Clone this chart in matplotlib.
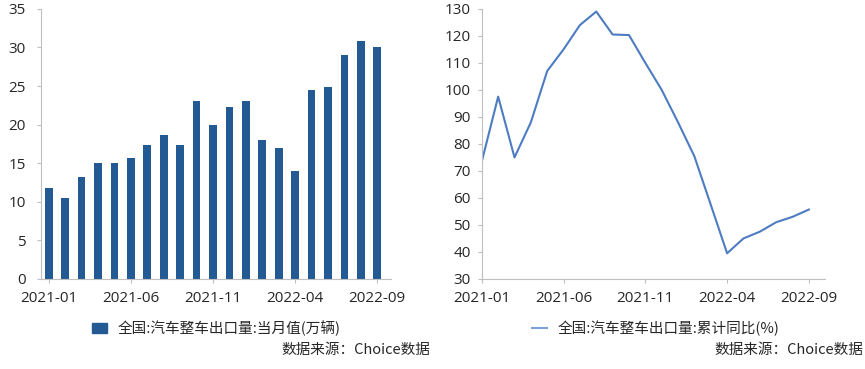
import numpy as np
import matplotlib
matplotlib.use('Agg')
import matplotlib.pyplot as plt
from matplotlib.lines import Line2D
from matplotlib.patches import Patch

plt.rcParams['font.family'] = ['Noto Sans CJK SC', 'DejaVu Sans']

months = ['2021-01', '2021-02', '2021-03', '2021-04', '2021-05', '2021-06', '2021-07',
          '2021-08', '2021-09', '2021-10', '2021-11', '2021-12', '2022-01', '2022-02',
          '2022-03', '2022-04', '2022-05', '2022-06', '2022-07', '2022-08', '2022-09']
# 当月值(万辆)
monthly = [11.8, 10.5, 13.2, 15.0, 15.0, 15.7, 17.4, 18.7, 17.3, 23.1, 19.9,
           22.3, 23.1, 18.0, 17.0, 14.0, 24.5, 24.9, 29.0, 30.8, 30.0]
# 累计同比(%)
cum_yoy = [73.5, 97.5, 75.0, 88.0, 107.0, 115.0, 124.0, 129.0, 120.5, 120.3, 110.0,
           100.0, 88.0, 75.4, 57.5, 39.5, 45.0, 47.5, 51.0, 53.0, 55.7]
tick_idx = [0, 5, 10, 15, 20]

bar_col = '#245a93'
line_col = '#4d7cc2'
axis_col = '#bfbfbf'
txt_col = '#262626'
tick_font = 'Open Sans'

fig = plt.figure(figsize=(8.65, 3.69), dpi=100)
ax1 = fig.add_axes([0.0474, 0.244, 0.405, 0.732])
ax2 = fig.add_axes([0.557, 0.244, 0.397, 0.732])

x = np.arange(len(months))

def style(ax, ypad):
    for s in ['top', 'right']:
        ax.spines[s].set_visible(False)
    for s in ['left', 'bottom']:
        ax.spines[s].set_color(axis_col)
        ax.spines[s].set_linewidth(0.8)
    ax.tick_params(axis='both', colors=axis_col, labelcolor=txt_col,
                   labelsize=11, length=3, width=0.8)
    ax.tick_params(axis='x', pad=6)
    ax.tick_params(axis='y', pad=ypad)
    ax.set_xticks(tick_idx)
    ax.set_xticklabels([months[i] for i in tick_idx])
    for lb in ax.get_xticklabels() + ax.get_yticklabels():
        lb.set_fontfamily(tick_font)

ax1.bar(x, monthly, width=0.47, color=bar_col)
ax1.set_xlim(-0.47, 20.85)
ax1.set_ylim(0, 35)
ax1.set_yticks(range(0, 36, 5))
style(ax1, 8)

ax2.plot(x, cum_yoy, color=line_col, linewidth=1.5)
ax2.set_xlim(0, 21)
ax2.set_ylim(30, 130)
ax2.set_yticks(range(30, 131, 10))
style(ax2, 5)

# legends and source notes
fig.legend(handles=[Patch(color=bar_col)], labels=['全国:汽车整车出口量:当月值(万辆)'],
           loc='center left', bbox_to_anchor=(0.106, 0.111), frameon=False,
           fontsize=10.5, handlelength=1.05, handleheight=0.7, handletextpad=0.7,
           borderpad=0, borderaxespad=0, labelcolor=txt_col)
fig.legend(handles=[Line2D([], [], color='#7aa3de', linewidth=1.5)],
           labels=['全国:汽车整车出口量:累计同比(%)'],
           loc='center left', bbox_to_anchor=(0.615, 0.111), frameon=False,
           fontsize=10.5, handlelength=1.0, handletextpad=0.75,
           borderpad=0, borderaxespad=0, labelcolor=txt_col)
fig.text(0.497, 0.052, '数据来源：Choice数据', ha='right', va='center',
         fontsize=10.5, color=txt_col)
fig.text(0.998, 0.052, '数据来源：Choice数据', ha='right', va='center',
         fontsize=10.5, color=txt_col)

fig.savefig('out.png', dpi=100)
